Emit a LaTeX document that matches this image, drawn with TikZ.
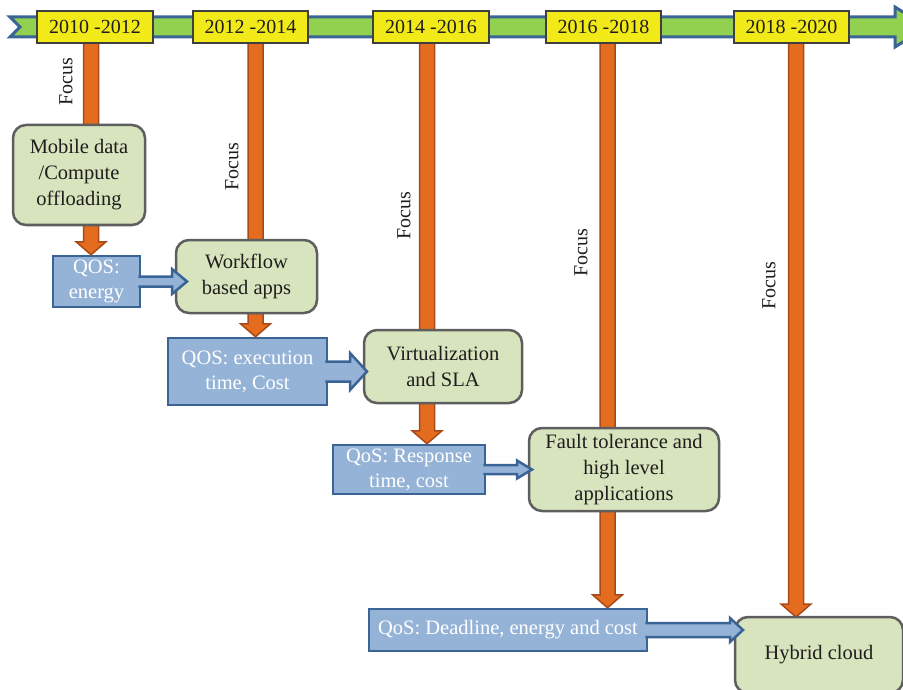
\documentclass[tikz,border=0pt]{standalone}
\usepackage{fontspec}
\setmainfont{Liberation Serif}
\usetikzlibrary{calc}
\definecolor{ribfill}{HTML}{92D050}
\definecolor{ribline}{HTML}{3A6496}
\definecolor{yearfill}{HTML}{F2EA18}
\definecolor{yearline}{HTML}{3F3F3F}
\definecolor{orfill}{HTML}{E46C1E}
\definecolor{orline}{HTML}{A94918}
\definecolor{greenfill}{HTML}{D7E4BD}
\definecolor{greenline}{HTML}{5E5E5E}
\definecolor{bluefill}{HTML}{95B3D7}
\definecolor{blueline}{HTML}{3B6496}
\definecolor{textdark}{HTML}{1E1E1E}
\tikzset{
  yearbox/.style={draw=yearline, fill=yearfill, line width=1.2pt, minimum width=115pt, minimum height=32pt, inner sep=0pt, font=\fontsize{20}{24}\selectfont, text=textdark},
  greenbox/.style={draw=greenline, fill=greenfill, line width=2.5pt, rounded corners=13pt, inner sep=0pt, align=center, font=\fontsize{20.5}{26}\selectfont, text=textdark},
  bluebox/.style={draw=blueline, fill=bluefill, line width=2.5pt, inner sep=0pt, align=center, font=\fontsize{20.5}{25}\selectfont, text=white},
  focuslabel/.style={rotate=90, font=\fontsize{20}{24}\selectfont, inner sep=0pt, text=textdark},
  orarr/.style={fill=orfill, draw=orline, line width=1.5pt, line join=miter},
  blarr/.style={fill=bluefill, draw=blueline, line width=2.5pt, line join=miter},
  ribbon/.style={fill=ribfill, draw=ribline, line width=3pt, line join=miter}
}
\newcommand{\orarrow}[2]{%
  \path[orarr] let \p1=(#1), \p2=(#2) in
  (\x1-7.5pt,\y1) -- (\x1-7.5pt,\y2+13pt) -- (\x1-15pt,\y2+13pt) -- (\x1,\y2)
  -- (\x1+15pt,\y2+13pt) -- (\x1+7.5pt,\y2+13pt) -- (\x1+7.5pt,\y1) -- cycle;}
\newcommand{\blarrow}[5]{%
  \path[blarr] let \p1=(#1), \p2=(#2) in
  (\x1,\y1+#3pt) -- (\x2-#5pt,\y1+#3pt) -- (\x2-#5pt,\y1+#4pt) -- (\x2,\y1)
  -- (\x2-#5pt,\y1-#4pt) -- (\x2-#5pt,\y1-#3pt) -- (\x1,\y1-#3pt);}
\begin{document}
\begin{tikzpicture}[x=1pt,y=-1pt]
\useasboundingbox (0,0) rectangle (903,690);
\clip (0,0) rectangle (903,690);
% timeline ribbon
\path[ribbon] (10,17) -- (895,17) -- (895,7) -- (927,27) -- (895,47) -- (895,37) -- (10,37) -- (20,27) -- cycle;
% arrow start coordinates
\coordinate (o1) at (91,43);
\coordinate (o2) at (255.5,43);
\coordinate (o3) at (427,43);
\coordinate (o4) at (607.5,43);
\coordinate (o5) at (796,43);
% nodes
\node[bluebox, minimum width=87pt, minimum height=51pt] (q1) at (96.5,281.5) {QOS:\\energy};
\node[bluebox, minimum width=159pt, minimum height=67pt] (q2) at (247.5,371.5) {QOS: execution\\time, Cost};
\node[bluebox, minimum width=152pt, minimum height=49pt] (q3) at (409,469.5) {QoS: Response\\time, cost};
\node[bluebox, minimum width=278pt, minimum height=42pt] (q4) at (508,630) {QoS: Deadline, energy and cost};
\coordinate (h5) at (819,617);
% orange focus arrows (behind green boxes)
\orarrow{o1}{q1.north}
\orarrow{o2}{q2.north}
\orarrow{o3}{q3.north}
\orarrow{o4}{q4.north}
\orarrow{o5}{h5}
% green boxes
\node[greenbox, minimum width=132pt, minimum height=100pt] (g1) at (79,175) {Mobile data\\/Compute\\offloading};
\node[greenbox, minimum width=141pt, minimum height=73pt] (g2) at (246.5,276.5) {Workflow\\based apps};
\node[greenbox, minimum width=158pt, minimum height=73pt] (g3) at (443,366.5) {Virtualization\\and SLA};
\node[greenbox, minimum width=190pt, minimum height=83pt] (g4) at (624,469.5) {Fault tolerance and\\high level\\applications};
\node[greenbox, minimum width=168pt, minimum height=76pt] (g5) at (819,655) {Hybrid cloud};
% blue block arrows
\coordinate (s1) at ([xshift=-3pt]q1.east);
\coordinate (s2) at ([xshift=-3pt]q2.east);
\coordinate (s3) at ([xshift=-3pt]q3.east);
\coordinate (s4) at ([xshift=-3pt]q4.east);
\coordinate (t1) at (187,280);
\coordinate (t2) at (367,372);
\coordinate (t3) at (532,468.5);
\coordinate (t4) at (743,630);
\blarrow{s1}{t1}{5}{12.5}{15}
\blarrow{s2}{t2}{10}{18.5}{17}
\blarrow{s3}{t3}{4.5}{9}{15}
\blarrow{s4}{t4}{7}{12}{13}
% year boxes
\node[yearbox, minimum width=116pt] (y1) at (95,27) {2010 -2012};
\node[yearbox] (y2) at (250.5,27) {2012 -2014};
\node[yearbox, minimum width=116pt] (y3) at (431,27) {2014 -2016};
\node[yearbox] (y4) at (603.5,27) {2016 -2018};
\node[yearbox] (y5) at (791.5,27) {2018 -2020};
% focus labels
\node[focuslabel] (f1) at (66,82) {Focus};
\node[focuslabel] (f2) at (232,167) {Focus};
\node[focuslabel] (f3) at (404,216) {Focus};
\node[focuslabel] (f4) at (581,253) {Focus};
\node[focuslabel] (f5) at (769,286) {Focus};
\end{tikzpicture}
\end{document}
